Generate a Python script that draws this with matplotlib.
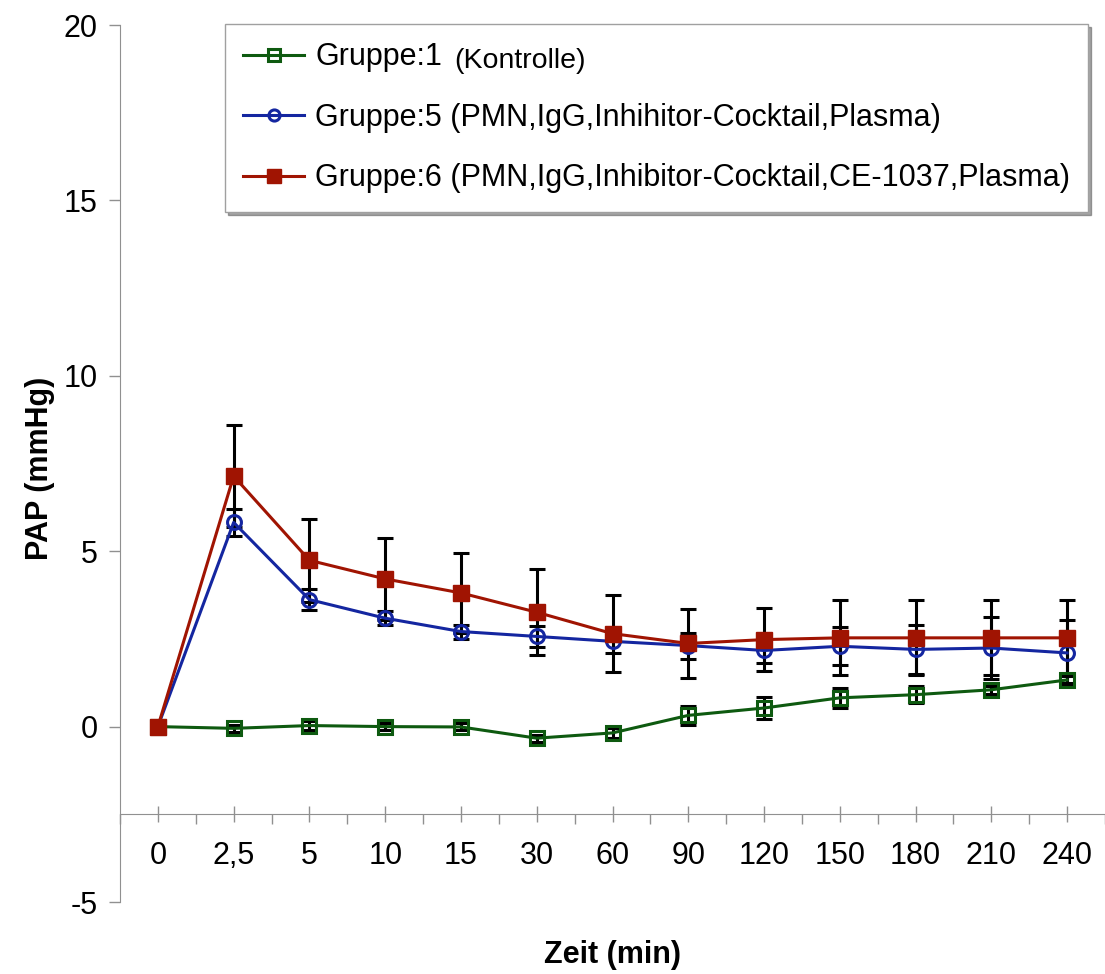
import matplotlib.pyplot as plt
import numpy as np

plt.rcParams['font.family'] = ['Liberation Sans', 'DejaVu Sans']

# x categories (minutes)
zeit = ["0", "2,5", "5", "10", "15", "30", "60", "90", "120", "150", "180", "210", "240"]

# Gruppe 1 (Kontrolle)
gruppe1 = [0, -0.05, 0.03, 0, -0.01, -0.33, -0.18, 0.32, 0.53, 0.82, 0.91, 1.05, 1.33]
gruppe1_err = [0, 0.1, 0.12, 0.1, 0.1, 0.1, 0.15, 0.27, 0.32, 0.28, 0.24, 0.12, 0.1]

# Gruppe 5
gruppe5 = [0, 5.82, 3.62, 3.09, 2.71, 2.57, 2.43, 2.31, 2.17, 2.29, 2.2, 2.24, 2.1]
gruppe5_err = [0, 0.38, 0.3, 0.2, 0.2, 0.29, 0.33, 0.37, 0.35, 0.54, 0.7, 0.88, 0.93]

# Gruppe 6
gruppe6 = [0, 7.14, 4.74, 4.21, 3.81, 3.26, 2.65, 2.37, 2.48, 2.53, 2.53, 2.53, 2.53]
gruppe6_err = [0, 1.45, 1.18, 1.17, 1.14, 1.23, 1.09, 0.98, 0.9, 1.07, 1.07, 1.07, 1.07]

labels = ["Gruppe:1",
          "Gruppe:5 (PMN,IgG,Inhihitor-Cocktail,Plasma)",
          "Gruppe:6 (PMN,IgG,Inhibitor-Cocktail,CE-1037,Plasma)"]

green = '#0e5a10'
blue = '#1426a0'
red = '#a01402'

W, H = 1105, 974
fig = plt.figure(figsize=(W / 100, H / 100), dpi=100)
ax = fig.add_axes([120 / W, 72 / H, 985 / W, 877 / H])

x = np.arange(len(zeit))

# error bars first (black), markers on top
for vals, err in [(gruppe1, gruppe1_err), (gruppe5, gruppe5_err), (gruppe6, gruppe6_err)]:
    ax.errorbar(x, vals, yerr=err, fmt='none', ecolor='black', elinewidth=2.2,
                capsize=6, capthick=2.2, zorder=2)

ax.plot(x, gruppe1, color=green, lw=2.2, marker='s', ms=10.5, mfc='none',
        mec=green, mew=2.2, label=labels[0], zorder=3)
ax.plot(x, gruppe5, color=blue, lw=2.2, marker='o', ms=10, mfc='none',
        mec=blue, mew=2.2, label=labels[1], zorder=4)
ax.plot(x, gruppe6, color=red, lw=2.2, marker='s', ms=12, mfc=red,
        mec=red, mew=1, label=labels[2], zorder=5)

ax.set_xlim(-0.5, len(zeit) - 0.5)
ax.set_ylim(-5, 20)
ax.set_yticks([-5, 0, 5, 10, 15, 20])
ax.set_yticklabels(['-5', '0', '5', '10', '15', '20'])
ax.set_xticks(x)
ax.set_xticklabels(zeit)
ax.set_xticks(np.arange(-0.5, len(zeit), 1), minor=True)

# axes look
ax.spines['top'].set_visible(False)
ax.spines['right'].set_visible(False)
ax.spines['bottom'].set_position(('data', -2.5))
ax.spines['bottom'].set_color('#909090')
ax.spines['left'].set_color('#909090')
ax.tick_params(axis='y', direction='out', length=8, width=1, color='#909090',
               labelsize=22, pad=8)
ax.tick_params(axis='x', which='major', direction='inout', length=11, width=1,
               color='#909090', labelsize=22, pad=14)
ax.tick_params(axis='x', which='minor', direction='out', length=7, width=1,
               color='#909090')

fig.text(40 / W, 1 - 468 / H, 'PAP (mmHg)', rotation=90, ha='center', va='center',
         fontsize=22, fontweight='bold')
fig.text(612 / W, 1 - 955 / H, 'Zeit (min)', ha='center', va='center',
         fontsize=22, fontweight='bold')

leg = fig.legend(loc='upper left', bbox_to_anchor=(225 / W, 1 - 24 / H),
                 fontsize=22, frameon=True, fancybox=False, shadow=True,
                 borderpad=0.6, handlelength=2.0, handletextpad=0.35,
                 labelspacing=1.0, borderaxespad=0, markerscale=0.8)
leg.get_frame().set_edgecolor('#a0a0a0')
leg.get_frame().set_linewidth(1)

# smaller "(Kontrolle)" after the first entry
fig.canvas.draw()
bb = leg.get_texts()[0].get_window_extent()
fig.text((bb.x1 + 12) / W, ((bb.y0 + bb.y1) / 2 - 4) / H, '(Kontrolle)',
         fontsize=20.5, ha='left', va='center', zorder=10)

plt.savefig('out.png', dpi=100)
